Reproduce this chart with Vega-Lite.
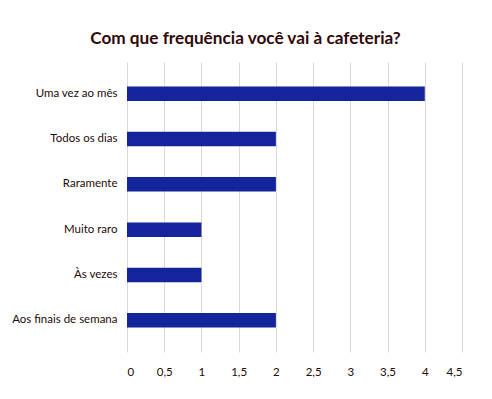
{
  "$schema": "https://vega.github.io/schema/vega-lite/v6.json",
  "autosize": "none",
  "width": 335,
  "height": 290,
  "padding": {"left": 127, "top": 62, "right": 30, "bottom": 47},
  "background": "white",
  "title": {
    "text": "Com que frequência você vai à cafeteria?",
    "font": "Lato",
    "fontSize": 17.2,
    "fontWeight": "bold",
    "color": "#300808",
    "anchor": "middle",
    "dx": -49,
    "offset": 15
  },
  "data": {
    "values": [
      {"categoria": "Uma vez ao mês", "valor": 4},
      {"categoria": "Todos os dias", "valor": 2},
      {"categoria": "Raramente", "valor": 2},
      {"categoria": "Muito raro", "valor": 1},
      {"categoria": "Às vezes", "valor": 1},
      {"categoria": "Aos finais de semana", "valor": 2}
    ]
  },
  "mark": {"type": "bar", "color": "#14249a"},
  "encoding": {
    "y": {
      "field": "categoria",
      "type": "nominal",
      "sort": null,
      "scale": {"paddingInner": 0.68, "paddingOuter": 0.54},
      "axis": {
        "title": null,
        "domain": false,
        "ticks": false,
        "grid": false,
        "labelFont": "Lato",
        "labelFontSize": 11.5,
        "labelColor": "#1e0a0a",
        "labelPadding": 10
      }
    },
    "x": {
      "field": "valor",
      "type": "quantitative",
      "scale": {"domain": [0, 4.5], "nice": false},
      "axis": {
        "title": null,
        "values": [0, 0.5, 1, 1.5, 2, 2.5, 3, 3.5, 4, 4.5],
        "labelExpr": "replace(toString(datum.value), '.', ',')",
        "domain": false,
        "ticks": false,
        "grid": true,
        "gridColor": "#d9d9d9",
        "labelFont": "Lato",
        "labelFontSize": 11.5,
        "labelColor": "#1e0a0a",
        "labelPadding": 14
      }
    }
  },
  "config": {"view": {"stroke": null}}
}
